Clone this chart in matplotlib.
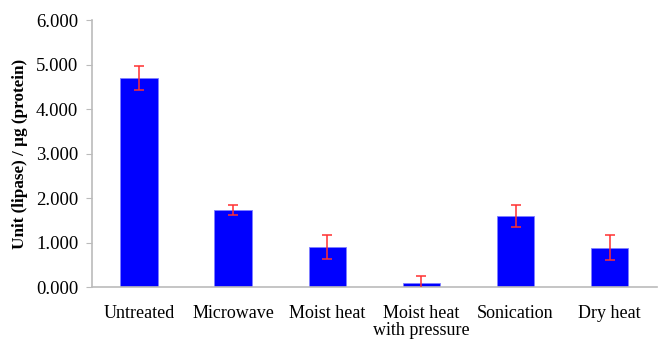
import numpy as np
import matplotlib.pyplot as plt

# lipase activity per treatment
treatments = ['Untreated', 'Microwave', 'Moist heat', 'Moist heat\nwith pressure', 'Sonication', 'Dry heat']
activity = [4.70, 1.73, 0.90, 0.10, 1.59, 0.88]
errors = [0.27, 0.12, 0.27, 0.16, 0.25, 0.28]

plt.rcParams['font.family'] = ['Liberation Serif', 'DejaVu Serif']

fig = plt.figure(figsize=(6.58, 3.39), dpi=100)
ax = fig.add_axes([0.14, 0.153, 0.858, 0.788])

x = np.arange(len(treatments))
ax.bar(x, activity, width=0.4, color='#0000ff', edgecolor='#8080ff', linewidth=0.6, zorder=2)
ax.errorbar(x, activity, yerr=errors, fmt='none', ecolor='#ff3030', elinewidth=1.1,
            capsize=3.5, capthick=1.1, zorder=3)

ax.set_xlim(-0.5, len(treatments) - 0.5)
ax.set_ylim(0, 6)
ax.set_yticks(np.arange(0, 7, 1))
ax.set_yticklabels(['%.3f' % v for v in np.arange(0, 7, 1)], fontsize=13.5)
ax.set_xticks(x)
ax.set_xticklabels(treatments, fontsize=13, linespacing=1.0)
ax.tick_params(axis='x', length=0, pad=13)
ax.tick_params(axis='y', length=4, color='#bbbbbb', pad=6)

for side in ['top', 'right']:
    ax.spines[side].set_visible(False)
for side in ['left', 'bottom']:
    ax.spines[side].set_color('#bbbbbb')
    ax.spines[side].set_linewidth(1.2)

ax.set_ylabel('Unit (lipase) / \u00b5g (protein)', fontsize=12.3, fontweight='bold', labelpad=6)

fig.savefig('out.png', dpi=100)
